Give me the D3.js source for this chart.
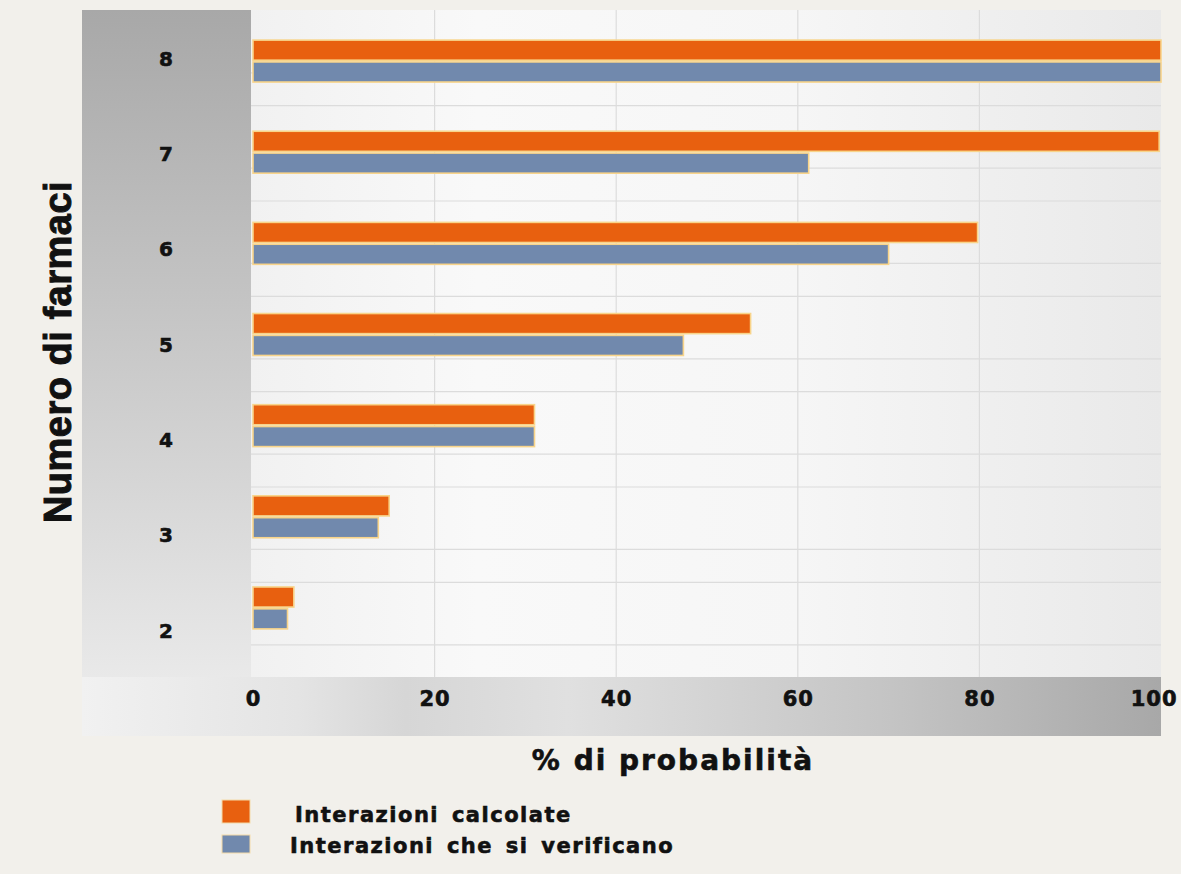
<!DOCTYPE html>
<html><head><meta charset="utf-8">
<script src="https://cdn.jsdelivr.net/npm/d3@7"></script>
<style>
html,body{margin:0;padding:0;background:#f2f0eb;}
svg{display:block;}
</style></head>
<body>
<script>
const categories = ["2","3","4","5","6","7","8"];
const seriesNames = ["Interazioni calcolate","Interazioni che si verificano"];
const calcolate = [4.5, 15, 31, 54.8, 79.8, 99.8, 100];
const verificano = [3.8, 13.8, 31, 47.4, 70, 61.2, 100];
const xTicks = [0,20,40,60,80,100];
const xTitle = "% di probabilità";
const yTitle = "Numero di farmaci";
const colors = ["#e8600f","#7189ad"];

const W=1181,H=874;
const svg=d3.select("body").append("svg").attr("width",W).attr("height",H);
const defs=svg.append("defs");

const plot={l:251,r:1161,t:10,b:677};
const order=categories.slice().reverse();
const x=d3.scaleLinear().domain([0,100]).range([253,1161]);
const yLab=d3.scalePoint().domain(order).range([58,630]);
const step=yLab.step();
const yBar=d3.scaleBand().domain(order).range([15.5,653.5]).paddingInner(0.54).paddingOuter(0.27);
const ySub=d3.scaleBand().domain([0,1]).range([0,yBar.bandwidth()]).paddingInner(0.08);

function grad(id,x2,y2,stops){
  const g=defs.append("linearGradient").attr("id",id).attr("x1",0).attr("y1",0).attr("x2",x2).attr("y2",y2);
  stops.forEach(s=>g.append("stop").attr("offset",s[0]).attr("stop-color",s[1]));
}
grad("gLeft",0,1,[[0,"#a8a8a8"],[0.5,"#c8c8c8"],[1,"#e9e9e9"]]);
grad("gPlot",1,0,[[0,"#f1f1f1"],[0.25,"#f9f9f9"],[0.6,"#f6f6f6"],[1,"#e9e9e9"]]);
grad("gBot",1,0,[[0,"#f1f1f1"],[0.2,"#e4e4e4"],[0.3,"#d6d6d6"],[0.45,"#e0e0e0"],[0.75,"#c4c4c4"],[1,"#a8a8a8"]]);

svg.append("rect").attr("x",82).attr("y",plot.t).attr("width",plot.l-82).attr("height",plot.b-plot.t).attr("fill","url(#gLeft)");
svg.append("rect").attr("x",plot.l).attr("y",plot.t).attr("width",plot.r-plot.l).attr("height",plot.b-plot.t).attr("fill","url(#gPlot)");
svg.append("rect").attr("x",82).attr("y",plot.b).attr("width",plot.r-82).attr("height",59).attr("fill","url(#gBot)");

const grid=svg.append("g").attr("stroke","#dcdcdc").attr("stroke-width",1.2);
xTicks.filter(t=>t>0&&t<100).forEach(t=>{
  grid.append("line").attr("x1",x(t)).attr("x2",x(t)).attr("y1",plot.t).attr("y2",plot.b);
});
order.forEach((c,i)=>{
  const top=yLab(c)-step/2;
  if(i>0) grid.append("line").attr("x1",plot.l).attr("x2",plot.r).attr("y1",top).attr("y2",top);
  grid.append("line").attr("x1",plot.l).attr("x2",plot.r).attr("y1",top+step*0.655).attr("y2",top+step*0.655);
});

const data=categories.map((c,i)=>({c,v:[calcolate[i],verificano[i]]}));
const gb=svg.append("g");
data.forEach(d=>{
  d.v.forEach((v,k)=>{
    gb.append("rect")
      .attr("x",x(0))
      .attr("y",yBar(d.c)+ySub(k))
      .attr("width",x(v)-x(0))
      .attr("height",ySub.bandwidth())
      .attr("fill",colors[k])
      .attr("stroke","#f8d48a").attr("stroke-width",1.6);
  });
});

const bold=sel=>sel.attr("font-family","DejaVu Sans").attr("font-weight","bold").attr("fill","#111")
  .attr("stroke","#111").attr("stroke-width",0.6);

const yAxis=d3.axisLeft(yLab).tickSize(0).tickPadding(0);
const ya=svg.append("g").attr("transform","translate(166,0)").call(yAxis);
ya.select(".domain").remove();
ya.selectAll("text").attr("text-anchor","middle").attr("dy","0.36em").attr("font-size",20).call(bold);

const xAxis=d3.axisBottom(x).tickValues(xTicks).tickSize(0).tickPadding(0);
const xa=svg.append("g").attr("transform","translate(0,698)").call(xAxis);
xa.select(".domain").remove();
xa.selectAll("text").attr("dy","0.36em").attr("y",0).attr("font-size",21).attr("letter-spacing",1).call(bold);
xa.selectAll(".tick").filter(d=>d===100).select("text").attr("text-anchor","end").attr("x",16);

svg.append("text").attr("x",673).attr("y",770).attr("text-anchor","middle")
  .attr("font-size",28).attr("letter-spacing",2).call(bold).text(xTitle);
svg.append("text").attr("transform","translate(71,352) rotate(-90)").attr("text-anchor","middle")
  .attr("font-family","Liberation Sans").attr("font-weight","bold").attr("font-size",38).attr("fill","#111")
  .attr("stroke","#111").attr("stroke-width",1).attr("letter-spacing",0.5).text(yTitle);

const lg=svg.append("g");
const legY=[[800,23,822],[835,18,853]];
seriesNames.forEach((n,k)=>{
  lg.append("rect").attr("x",222).attr("y",legY[k][0]).attr("width",28).attr("height",legY[k][1])
    .attr("fill",colors[k]).attr("stroke","#f3d9a8").attr("stroke-width",1);
  lg.append("text").attr("x",k===0?295:290).attr("y",legY[k][2])
    .attr("font-size",21).attr("letter-spacing",1.5).attr("word-spacing",4).call(bold).text(n);
});
</script>
</body></html>
